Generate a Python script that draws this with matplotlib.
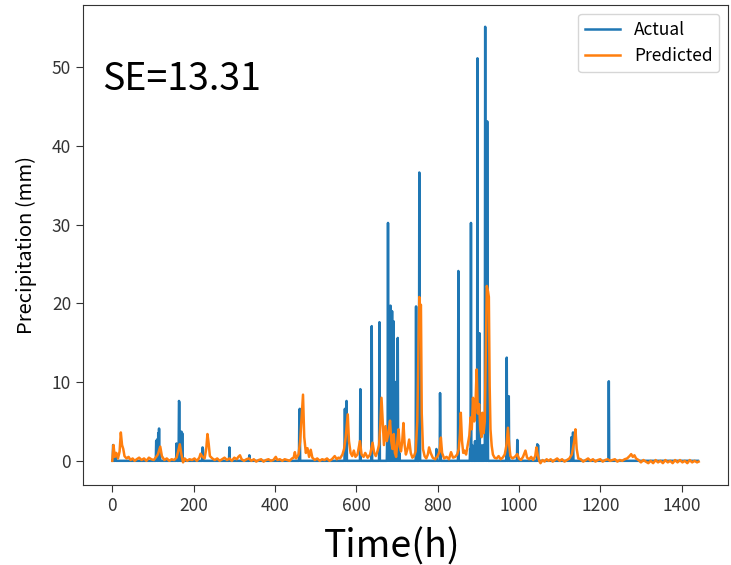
import numpy as np
import matplotlib
matplotlib.use("Agg")
import matplotlib.pyplot as plt

plt.rcParams['font.family'] = ['Noto Sans CJK SC', 'DejaVu Sans']

# ---- data ----
n_hours = 1441
actual_hours = [2, 3, 8, 108, 110, 113, 115, 117, 158, 164, 165, 170, 172, 222, 223, 288, 337,
                460, 461, 572, 576, 610, 638, 657, 676, 678, 680, 682, 684, 686, 688, 690, 692,
                694, 696, 698, 700, 702, 704, 706, 747, 755, 756, 797, 806, 807, 851, 880, 882,
                885, 888, 892, 895, 898, 900, 903, 906, 909, 912, 915, 917, 919, 922, 923, 970,
                975, 996, 1045, 1047, 1129, 1133, 1221]
actual_values = [2.0, 1.8, 1.0, 2.5, 2.7, 3.5, 4.1, 1.5, 2.2, 7.6, 7.4, 3.7, 3.5, 1.7, 1.5, 1.7, 0.7,
                 6.0, 6.6, 6.6, 7.6, 9.1, 17.1, 17.6, 3.0, 30.2, 4.0, 6.0, 19.7, 3.0, 19.0, 5.0, 17.7,
                 2.0, 10.0, 3.0, 5.0, 15.6, 2.5, 1.0, 19.6, 36.6, 20.0, 1.5, 8.6, 3.0, 24.1, 1.5, 30.2,
                 2.0, 1.0, 2.5, 1.5, 51.1, 3.0, 16.2, 2.0, 1.5, 2.0, 1.0, 55.1, 3.0, 43.1, 10.0, 13.1,
                 8.2, 2.65, 2.1, 2.0, 3.0, 3.6, 10.1]

pred_hours = [0, 3, 6, 10, 14, 18, 21, 24, 27, 30, 35, 40, 45, 50, 55, 60, 66, 72, 78, 84, 90, 96,
              102, 108, 112, 118, 122, 128, 134, 140, 146, 152, 158, 162, 166, 170, 174, 178, 184,
              190, 196, 202, 208, 214, 217, 222, 227, 231, 234, 237, 240, 246, 252, 258, 264, 270,
              276, 282, 288, 294, 300, 306, 310, 314, 318, 324, 330, 336, 342, 348, 354, 360, 366,
              372, 378, 384, 390, 396, 402, 406, 412, 418, 424, 430, 436, 442, 446, 449, 452, 458,
              462, 466, 469, 472, 476, 480, 484, 488, 492, 498, 504, 510, 516, 522, 528, 534, 540,
              547, 552, 556, 560, 566, 570, 574, 579, 582, 586, 590, 594, 598, 603, 609, 613, 618,
              622, 628, 634, 640, 644, 648, 652, 656, 659, 662, 665, 668, 672, 675, 679, 683, 686,
              689, 692, 695, 698, 701, 704, 707, 710, 713, 716, 719, 722, 726, 730, 734, 738, 742,
              746, 750, 753, 755, 757, 759, 761, 764, 768, 772, 776, 779, 783, 788, 794, 800, 805,
              808, 811, 816, 822, 828, 833, 838, 843, 848, 852, 855, 857, 860, 863, 866, 870, 874,
              878, 881, 884, 887, 890, 893, 896, 899, 902, 905, 908, 910, 913, 916, 919, 921, 924,
              926, 928, 930, 933, 936, 940, 945, 950, 955, 960, 965, 969, 973, 976, 979, 984, 990,
              996, 1000, 1005, 1010, 1016, 1020, 1025, 1030, 1035, 1040, 1043, 1046, 1050, 1053,
              1058, 1063, 1068, 1073, 1078, 1083, 1088, 1094, 1100, 1106, 1112, 1118, 1124, 1130,
              1136, 1139, 1142, 1146, 1152, 1158, 1164, 1170, 1176, 1182, 1188, 1194, 1200, 1206,
              1212, 1218, 1224, 1230, 1236, 1242, 1248, 1254, 1260, 1266, 1272, 1276, 1280, 1284,
              1288, 1294, 1300, 1306, 1312, 1318, 1324, 1330, 1336, 1342, 1348, 1354, 1360, 1366,
              1372, 1378, 1384, 1390, 1396, 1402, 1408, 1414, 1420, 1426, 1432, 1438, 1442]
pred_values = [0.0, 2.0, 0.5, 1.0, 0.3, 1.2, 3.6, 2.0, 1.5, 0.6, 0.3, 0.5, 0.1, 0.3, 0.0, 0.2, 0.4,
               0.1, 0.3, 0.0, 0.4, 0.2, 0.1, 0.5, 0.8, 1.8, 0.6, 0.1, 0.3, 0.0, 0.2, 0.1, 0.4, 1.2,
               2.1, 0.8, -0.2, 0.3, 0.0, 0.2, 0.1, 0.3, 0.0, 0.4, 0.9, 0.5, 0.3, 1.5, 3.4, 2.2, 0.6,
               0.3, 0.1, 0.3, 0.0, 0.2, 0.4, 0.1, 0.3, 0.0, 0.4, 0.2, 0.5, 0.7, 0.2, 0.0, 0.2, 0.3,
               0.0, 0.2, -0.1, 0.1, 0.2, -0.1, 0.1, 0.2, 0.0, 0.1, 0.5, 0.1, 0.2, 0.0, 0.2, 0.1, 0.0,
               0.3, 0.4, 1.1, 0.3, 0.8, 2.5, 6.0, 8.4, 3.0, 1.0, 1.6, 0.5, 1.4, 0.4, 0.1, 0.3, 0.0,
               0.2, 0.1, 0.3, 0.0, 0.2, 0.6, 0.2, 0.4, 0.3, 0.8, 1.5, 3.0, 5.9, 2.5, 1.0, 0.6, 1.3,
               0.5, 0.8, 2.5, 0.8, 0.5, 1.0, 0.4, 0.8, 2.3, 1.0, 0.6, 1.2, 2.0, 4.5, 8.0, 5.0, 2.0,
               4.4, 2.5, 3.5, 5.1, 2.5, 1.5, 3.4, 1.0, 0.5, 2.5, 4.0, 1.8, 1.2, 2.5, 4.8, 2.0, 0.8,
               1.5, 2.7, 1.0, 0.4, 0.6, 1.2, 5.0, 15.0, 20.8, 19.5, 19.8, 6.0, 1.5, 0.6, 0.3, 0.8,
               1.7, 1.0, 0.4, 0.2, 0.6, 1.2, 2.95, 1.0, 0.3, 0.5, 0.2, 1.1, 0.4, 0.5, 0.8, 1.5, 3.5,
               6.1, 2.5, 1.0, 1.3, 0.8, 2.0, 3.2, 5.5, 4.0, 8.0, 5.0, 7.0, 11.6, 6.0, 7.2, 4.0, 3.0,
               6.1, 3.5, 5.0, 15.0, 22.2, 21.5, 20.8, 9.5, 4.0, 1.9, 0.8, 0.4, 0.3, 0.6, 0.2, 0.4,
               0.8, 1.9, 4.2, 2.0, 0.6, 0.3, 0.5, 0.85, 0.3, 0.1, 0.5, 1.3, 0.4, 0.2, 0.5, 0.1, 0.6,
               1.7, 0.8, 0.0, -0.3, 0.1, -0.1, 0.2, 0.0, 0.2, -0.1, 0.1, 0.3, 0.0, 0.2, -0.1, 0.1,
               0.3, 0.8, 2.5, 4.0, 1.5, 0.3, 0.2, -0.1, 0.1, 0.3, 0.0, 0.2, -0.1, 0.1, 0.2, -0.1,
               0.1, 0.2, 0.0, 0.1, 0.2, -0.1, 0.1, 0.0, 0.2, 0.3, 0.6, 0.85, 0.5, 0.7, 0.3, 0.1,
               -0.2, 0.1, -0.1, -0.3, 0.0, -0.3, 0.1, -0.2, 0.0, -0.3, 0.1, -0.2, 0.0, -0.3, 0.1,
               -0.2, 0.1, -0.2, 0.0, -0.3, 0.1, -0.2, 0.0, -0.2, -0.1]

se_text = "SE=13.31"
x_label = "Time(h)"
y_label = "Precipitation (mm)"
legend_labels = ["Actual", "Predicted"]

# ---- build series ----
actual = np.zeros(n_hours)
actual[np.array(actual_hours)] = actual_values
hours = np.arange(n_hours)

fig = plt.figure(figsize=(7.31, 5.65), dpi=100)
ax = fig.add_axes([0.1135, 0.1416, 0.8824, 0.8496])
ax.plot(hours, actual, color='#1f77b4', lw=1.8, label=legend_labels[0])
ax.plot(pred_hours, pred_values, color='#ff7f0e', lw=1.8, label=legend_labels[1])

ax.set_xticks([0, 200, 400, 600, 800, 1000, 1200, 1400])
ax.set_yticks([0, 10, 20, 30, 40, 50])
ax.tick_params(labelsize=12.5, length=5, labelcolor='#333333', color='#333333')
for s in ax.spines.values():
    s.set_color('#333333')
ax.set_xlabel(x_label, fontsize=27)
ax.xaxis.set_label_coords(0.48, -0.088, transform=ax.transAxes)
ax.xaxis.label.set_va('top')
ax.set_ylabel(y_label, fontsize=14.5, labelpad=11)
ax.text(0.03, 0.885, se_text, transform=ax.transAxes, fontsize=27, va='top', ha='left')
ax.legend(loc='upper right', fontsize=12.5)

fig.savefig("out.png", dpi=100)
